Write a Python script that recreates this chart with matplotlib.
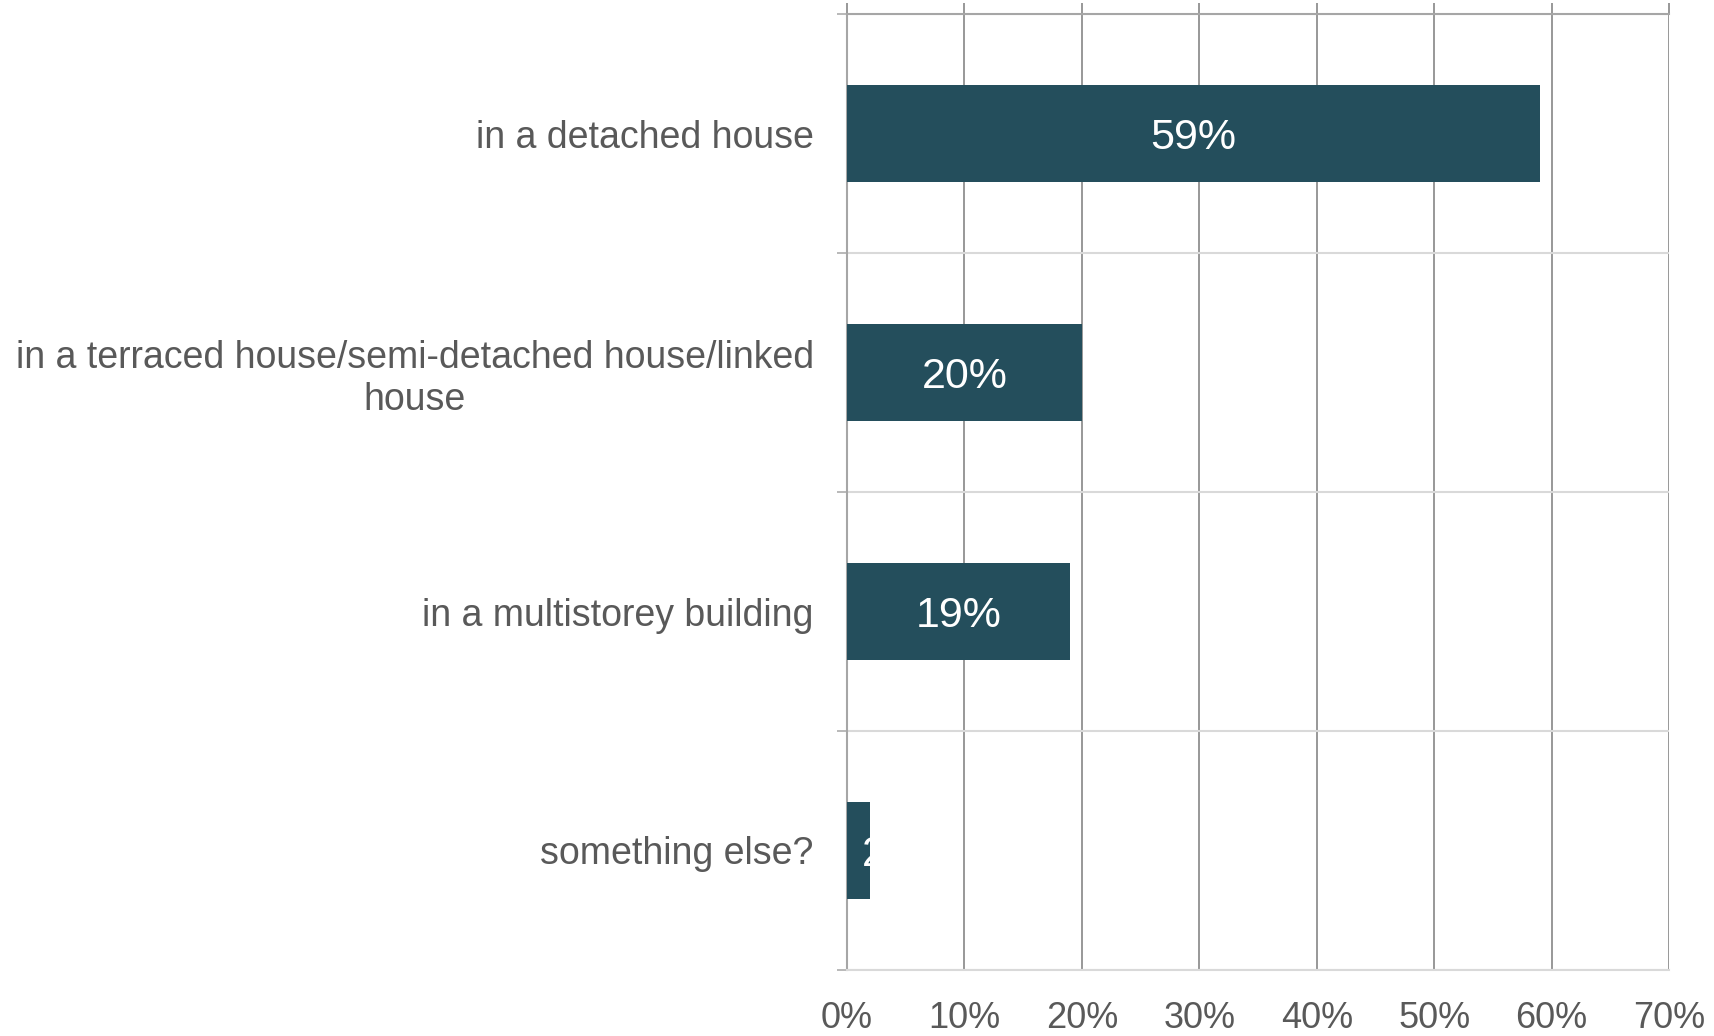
import matplotlib
matplotlib.use('Agg')
import matplotlib.pyplot as plt
import numpy as np

#
#--- chart values
#
categories = ['in a detached house',
              'in a terraced house/semi-detached house/linked\nhouse',
              'in a multistorey building',
              'something else?']
values     = [59, 20, 19, 2]
xticks     = [0, 10, 20, 30, 40, 50, 60, 70]

bar_color  = '#244e5c'
text_color = '#595959'
dark_grid  = '#868686'
mid_grey   = '#a6a6a6'
light_grid = '#d9d9d9'

plt.rcParams['font.family'] = ['Liberation Sans', 'DejaVu Sans']

fig = plt.figure(figsize=(17.14, 10.36), dpi=100)
ax  = fig.add_axes([847 / 1714, 1 - 970 / 1036, 822 / 1714, 956 / 1036])

ypos = np.arange(len(categories))
bars = ax.barh(ypos, values, height=0.405, color=bar_color, zorder=3)

ax.set_xlim(0, 70)
ax.set_ylim(len(categories) - 0.5, -0.5)

#
#--- x axis: gridlines, ticks sticking out above the top, labels at the bottom
#
ax.set_xticks(xticks)
ax.set_xticklabels([str(v) + '%' for v in xticks])
ax.tick_params(axis='x', top=True, bottom=False, labeltop=False, labelbottom=True,
               direction='out', length=8, width=1.2, color=dark_grid,
               labelsize=26, labelcolor=text_color, pad=14)
ax.xaxis.grid(True, color=dark_grid, linewidth=1.2, zorder=1)

#
#--- y axis: separators between categories, labels as minor ticks
#
bounds = np.arange(len(categories) + 1) - 0.5
ax.set_yticks(bounds)
ax.set_yticklabels([])
ax.tick_params(axis='y', which='major', direction='out', length=7.2, width=1.1,
               color=mid_grey)
ax.set_yticks(ypos, minor=True)
ax.set_yticklabels(categories, minor=True, ha='right', multialignment='center')
ax.tick_params(axis='y', which='minor', length=0, pad=24, labelsize=27,
               labelcolor=text_color)
ax.yaxis.grid(True, which='major', color=light_grid, linewidth=1.5, zorder=1)
ax.set_axisbelow(True)

for side in ['left', 'top']:
    ax.spines[side].set_color(mid_grey)
    ax.spines[side].set_linewidth(1.5)
ax.spines['bottom'].set_color(light_grid)
ax.spines['bottom'].set_linewidth(1.5)
ax.spines['right'].set_visible(False)

#
#--- value labels inside bars (white, clipped to the bar)
#
for bar, val in zip(bars, values):
    yc = bar.get_y() + bar.get_height() / 2
    if val >= 10:
        ax.text(val / 2, yc, str(val) + '%', ha='center', va='center_baseline',
                color='white', fontsize=31, zorder=4)
    else:
        t = ax.annotate(str(val) + '%', xy=(val / 2, yc), xytext=(3, 0),
                        textcoords='offset pixels', ha='left',
                        va='center_baseline', color='white', fontsize=31,
                        zorder=4)
        t.set_clip_path(bar)

fig.savefig('out.png', dpi=100)
